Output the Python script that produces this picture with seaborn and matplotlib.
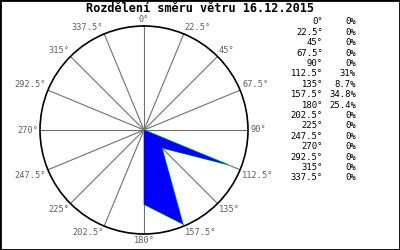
import numpy as np
import pandas as pd
import matplotlib
matplotlib.use("Agg")
import matplotlib.pyplot as plt
import seaborn as sns

directions = [0, 22.5, 45, 67.5, 90, 112.5, 135, 157.5, 180, 202.5, 225, 247.5, 270, 292.5, 315, 337.5]
dir_labels = ["0°", "22.5°", "45°", "67.5°", "90°", "112.5°", "135°", "157.5°",
              "180°", "202.5°", "225°", "247.5°", "270°", "292.5°", "315°", "337.5°"]
percents = [0, 0, 0, 0, 0, 31, 8.7, 34.8, 25.4, 0, 0, 0, 0, 0, 0, 0]
pct_labels = ["0%", "0%", "0%", "0%", "0%", "31%", "8.7%", "34.8%", "25.4%",
              "0%", "0%", "0%", "0%", "0%", "0%", "0%"]
title = "Rozdělení směru větru 16.12.2015"

sns.set_style("white")
plt.rcParams["font.family"] = ["DejaVu Sans Mono"]

W, H = 400, 250
fig = plt.figure(figsize=(W / 100, H / 100), dpi=100)
fig.patch.set_facecolor("white")

cx, cy, R = 144, 130, 104
ax = fig.add_axes([(cx - R) / W, (H - cy - R) / H, 2 * R / W, 2 * R / H], projection="polar")
ax.set_theta_zero_location("N")
ax.set_theta_direction(-1)
rmax = 35.5
ax.set_ylim(0, rmax)
ax.set_yticks([])
ax.set_xticks(np.deg2rad(directions))
ax.set_xticklabels([])
ax.grid(True, axis="x", color="#707070", lw=0.8)
ax.grid(False, axis="y")
ax.spines["polar"].set_color("black")
ax.spines["polar"].set_linewidth(1.2)
ax.set_facecolor("white")

df = pd.DataFrame({
    "theta": np.deg2rad(directions + [directions[0]]),
    "r": percents + [percents[0]],
})
sns.lineplot(data=df, x="theta", y="r", sort=False, ax=ax, color="#00dd00", lw=0.8, legend=False)
ax.fill(df["theta"], df["r"], color="#0000ff", lw=0, zorder=3)
ax.set_xlabel("")
ax.set_ylabel("")
ax.set_ylim(0, rmax)

for d, lab in zip(directions, dir_labels):
    s, c = np.sin(np.deg2rad(d)), np.cos(np.deg2rad(d))
    ha = "left" if s > 0.1 else ("right" if s < -0.1 else "center")
    va = "bottom" if c > 0.1 else ("top" if c < -0.1 else "center")
    ax.text(np.deg2rad(d), rmax * 1.02, lab, ha=ha, va=va, fontsize=6.2,
            color="#606060", clip_on=False)

fig.text(0.5, 1 - 9 / H, title, ha="center", va="center", fontsize=8.6,
         fontweight="bold", color="black")

y0, dy = 22, 10.4
for i, (dl, pl) in enumerate(zip(dir_labels, pct_labels)):
    y = 1 - (y0 + i * dy) / H
    fig.text(323 / W, y, dl, ha="right", va="center", fontsize=6.4, color="black")
    fig.text(356 / W, y, pl, ha="right", va="center", fontsize=6.4, color="black")

fig.add_artist(plt.Rectangle((0, 0), 1, 1, transform=fig.transFigure, fill=False,
                             edgecolor="black", lw=2))

fig.savefig("out.png", dpi=100, facecolor="white")
